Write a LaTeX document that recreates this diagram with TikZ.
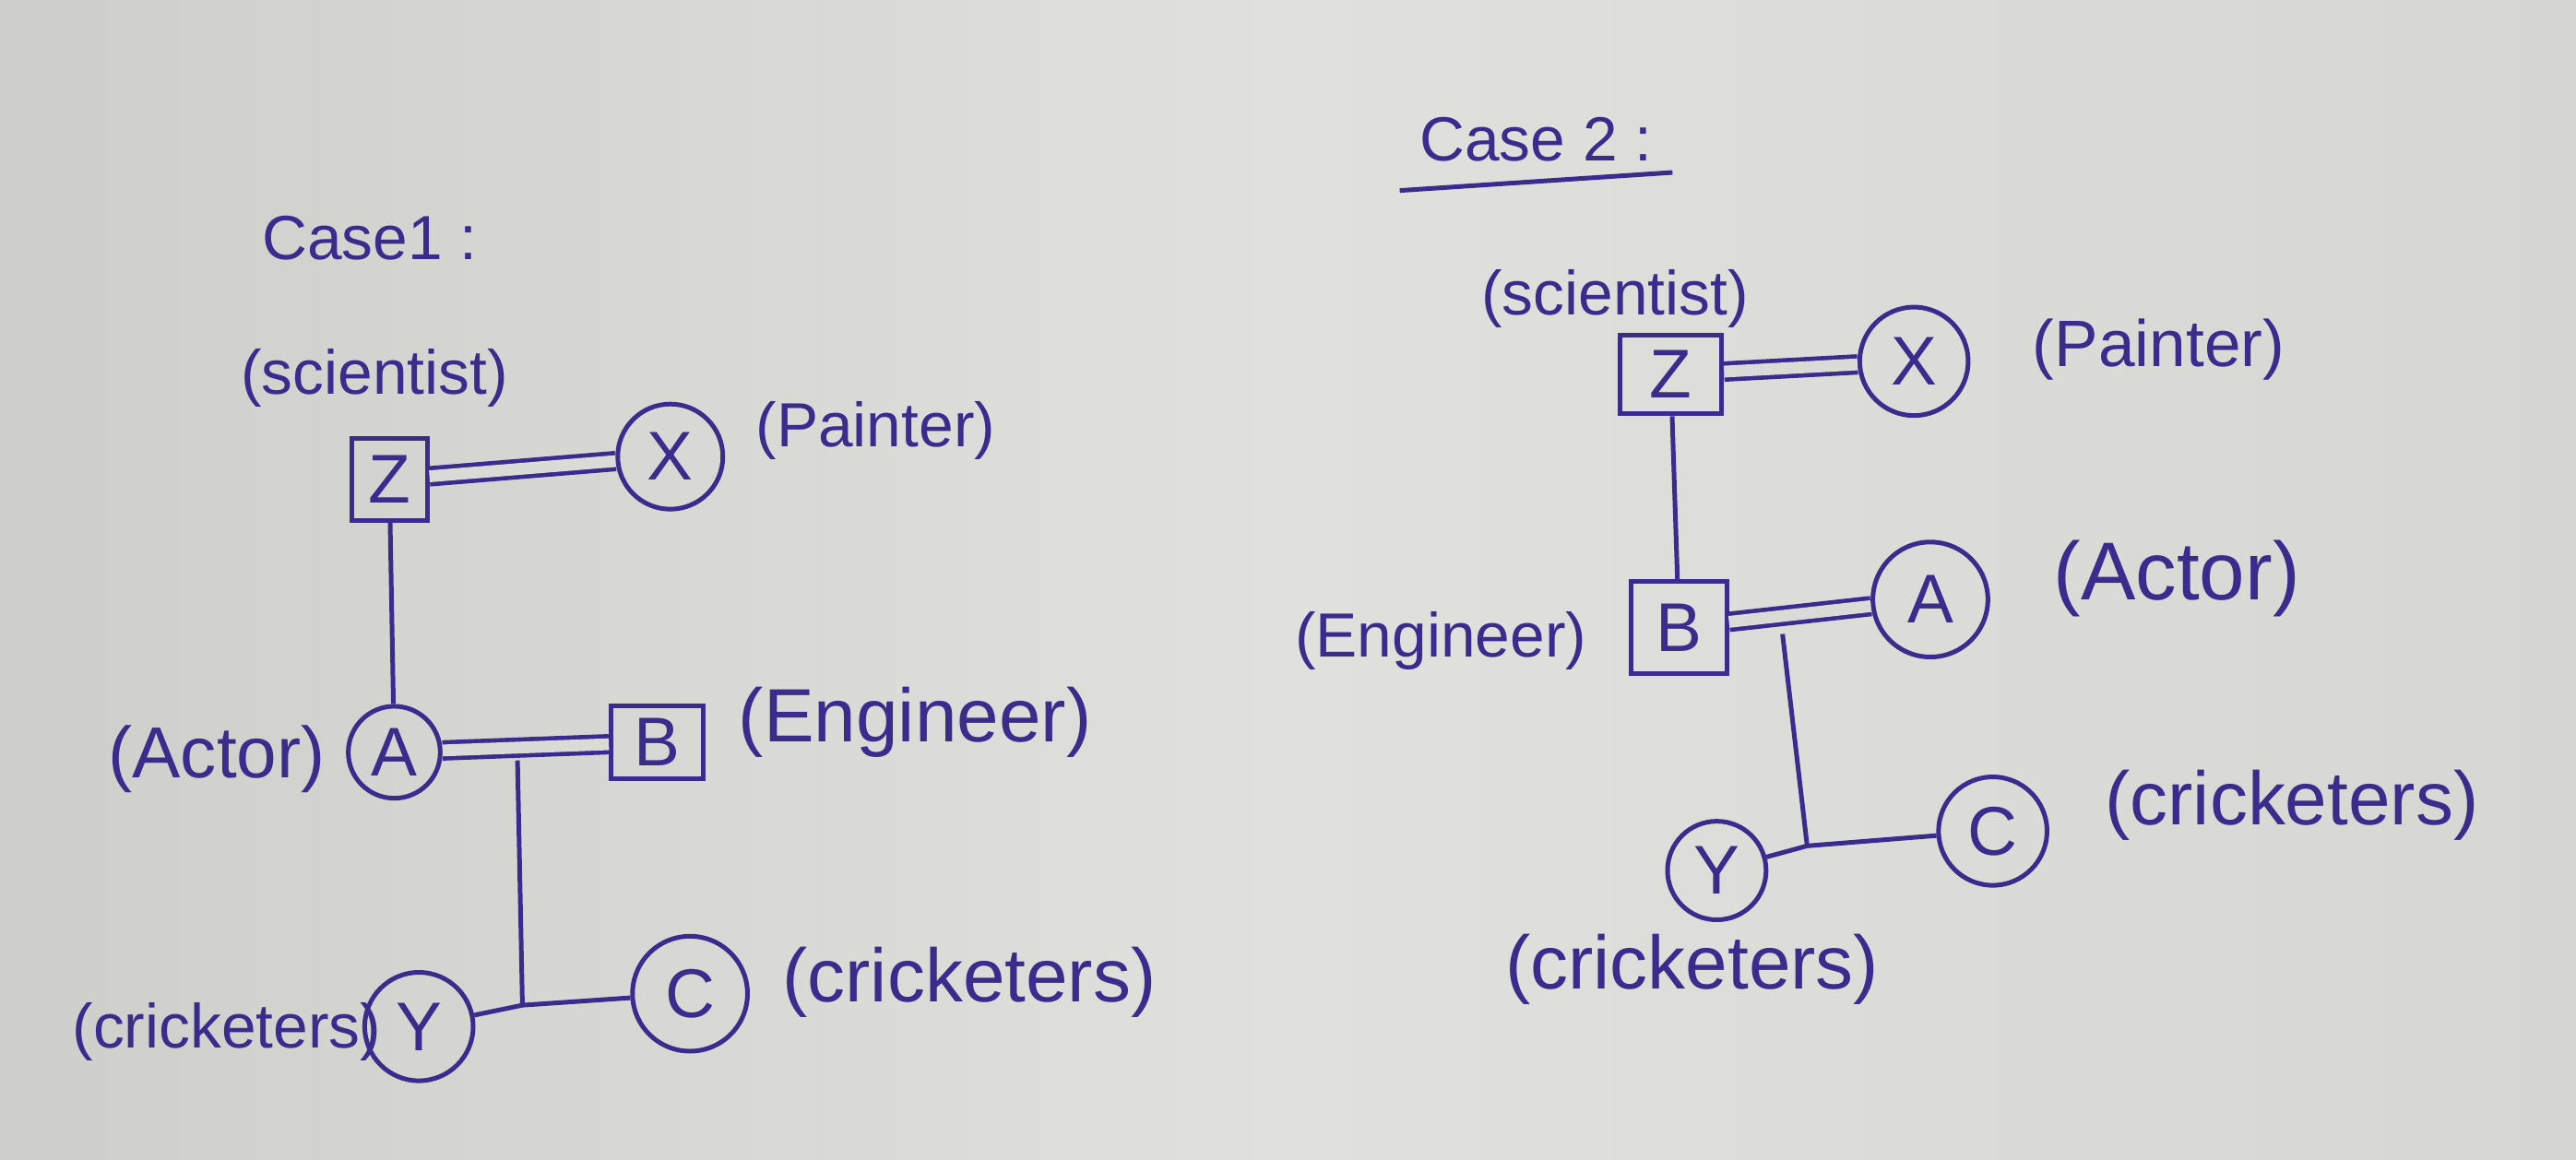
\documentclass[tikz,border=0pt]{standalone}
\usepackage{fontspec}
\setmainfont{Liberation Sans}
\definecolor{ink}{RGB}{58,44,140}
\definecolor{bgc}{RGB}{218,218,215}
\definecolor{bgl}{RGB}{206,207,203}
\definecolor{bgm}{RGB}{224,224,221}
\definecolor{bgr}{RGB}{214,214,211}
\begin{document}
\begin{tikzpicture}[x=0.5pt,y=-0.5pt,
  ink line/.style={draw=ink,line width=1.4pt},
  boxnode/.style={ink line,rectangle,inner sep=0pt,text=ink,font=\fontsize{21}{21}\selectfont},
  circnode/.style={ink line,circle,inner sep=0pt,text=ink,font=\fontsize{21}{21}\selectfont},
  lbl/.style={text=ink,inner sep=0pt,font=\fontsize{19}{19}\selectfont},
  biglbl/.style={text=ink,inner sep=0pt,font=\fontsize{23}{23}\selectfont},
  dbl/.style={draw=ink,line width=1.3pt,double=bgc,double distance=3.6pt},
  conn/.style={ink line}]
\shade[left color=bgl,right color=bgr,middle color=bgm] (0,0) rectangle (1568,706);
\useasboundingbox (0,0) rectangle (1568,706);

% ---------- Case 1 ----------
\node[lbl] (t1) at (225,145) {Case1 :};
\node[lbl] (s1) at (228,230) {(scientist)};
\node[boxnode,minimum width=23pt,minimum height=25pt] (Z1) at (237,292) {Z};
\node[circnode,minimum size=32pt] (X1) at (408,278) {X};
\node[lbl] (p1) at (533,262) {(Painter)};
\node[circnode,minimum size=28pt] (A1) at (240,458) {A};
\node[lbl,font=\fontsize{22}{22}\selectfont] (a1) at (132,462) {(Actor)};
\node[boxnode,minimum width=28pt,minimum height=22pt] (B1) at (400,452) {B};
\node[biglbl] (e1) at (557,440) {(Engineer)};
\node[circnode,minimum size=33pt] (Y1) at (255,625) {Y};
\node[lbl] (cy1) at (138,628) {(cricketers)};
\node[circnode,minimum size=35pt] (C1) at (420,605) {C};
\node[biglbl] (cc1) at (590,598) {(cricketers)};

\draw[dbl] (Z1) -- (X1);
\draw[conn] (Z1) -- (A1);
\draw[dbl] (A1) -- (B1);
\coordinate (J1) at (315,463);
\coordinate (K1) at (318,612);
\draw[conn] (J1) -- (K1);
\draw[conn] (Y1) -- (K1) -- (C1);

% ---------- Case 2 ----------
\node[lbl] (t2) at (935,85) {Case 2 :};
\coordinate (u2a) at (852,116);
\coordinate (u2b) at (1018,105);
\draw[conn] (u2a) -- (u2b);
\node[lbl] (s2) at (983,182) {(scientist)};
\node[boxnode,minimum width=31pt,minimum height=24pt] (Z2) at (1017,228) {Z};
\node[circnode,minimum size=33pt] (X2) at (1165,220) {X};
\node[lbl,font=\fontsize{20}{20}\selectfont] (p2) at (1314,213) {(Painter)};
\node[boxnode,minimum width=29pt,minimum height=28pt] (B2) at (1022,382) {B};
\node[lbl] (e2) at (877,390) {(Engineer)};
\node[circnode,minimum size=35pt] (A2) at (1175,365) {A};
\node[lbl,font=\fontsize{25}{25}\selectfont] (a2) at (1325,352) {(Actor)};
\node[circnode,minimum size=30pt] (Y2) at (1045,530) {Y};
\node[biglbl] (cy2) at (1030,590) {(cricketers)};
\node[circnode,minimum size=33pt] (C2) at (1213,506) {C};
\node[biglbl] (cc2) at (1395,490) {(cricketers)};

\draw[dbl] (Z2) -- (X2);
\draw[conn] (Z2) -- (B2);
\draw[dbl] (B2) -- (A2);
\coordinate (J2) at (1085,386);
\coordinate (K2) at (1100,515);
\draw[conn] (J2) -- (K2);
\draw[conn] (Y2) -- (K2) -- (C2);
\end{tikzpicture}
\end{document}
